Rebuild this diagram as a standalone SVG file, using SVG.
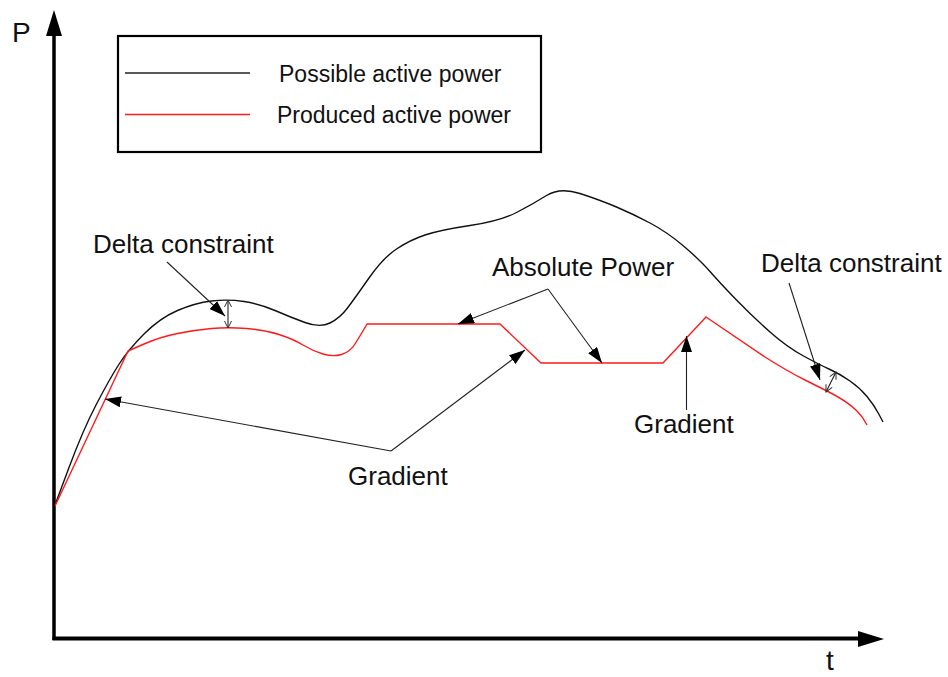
<svg xmlns="http://www.w3.org/2000/svg" width="948" height="677" viewBox="0 0 948 677">
<style>
.lbl{font-family:"Liberation Sans",Arial,sans-serif;font-size:26px;fill:#111}
.leg{font-family:"Liberation Sans",Arial,sans-serif;font-size:23px;fill:#111}
.ax{font-family:"Liberation Sans",Arial,sans-serif;font-size:28px;fill:#111}
.conn{stroke:#222;stroke-width:1.1;fill:none}
.blk{stroke:#111;stroke-width:1.4;fill:none;stroke-linejoin:round}
.red{stroke:#ff1a1a;stroke-width:1.4;fill:none;stroke-linejoin:round}
</style>
<defs>
<marker id="ah" markerWidth="17" markerHeight="11" refX="16" refY="5.5" orient="auto" markerUnits="userSpaceOnUse"><path d="M0,0 L16,5.5 L0,11 z" fill="#000"/></marker>
<marker id="oh" markerWidth="9" markerHeight="9" refX="7.5" refY="4" orient="auto-start-reverse" markerUnits="userSpaceOnUse"><path d="M0.5,0.5 L7.5,4 L0.5,7.5" fill="none" stroke="#333" stroke-width="1"/></marker>
</defs>
<rect width="948" height="677" fill="#fff"/>
<g id="axes">
<line x1="54" y1="640" x2="54" y2="34" stroke="#000" stroke-width="3.5"/>
<polygon points="46,36 62,36 54,10" fill="#000"/>
<line x1="52.5" y1="638.5" x2="860" y2="638.5" stroke="#000" stroke-width="4"/>
<polygon points="858,631 858,647 884,639" fill="#000"/>
<text class="ax" x="12" y="42">P</text>
<text class="ax" x="826" y="670">t</text>
</g>
<g id="legend">
<rect x="118" y="36" width="423" height="116" fill="none" stroke="#000" stroke-width="2.2"/>
<line x1="125" y1="73" x2="250" y2="73" stroke="#222" stroke-width="1.4"/>
<line x1="125" y1="114.5" x2="250" y2="114.5" stroke="#ff1a1a" stroke-width="1.4"/>
<text class="leg" x="279" y="82">Possible active power</text>
<text class="leg" x="277" y="123">Produced active power</text>
</g>
<g id="possible-power">
<path class="blk" d="M55,505 L69,467.5 Q83,430 96,405 Q109,380 118.5,365 Q128,350 144,334 Q160,318 177.5,310.5 Q195,303 211.5,301 Q228,299 244,301.5 Q260,304 275,310.5 Q290,317 305,322.5 Q320,328 330,323 Q340,318 347.5,308 Q355,298 369,278 Q383,258 396.5,249 Q410,240 425,235 Q440,230 470,225.5 Q500,221 516.5,212.5 Q533,204 546.5,195.5 Q560,187 580,193.5 Q600,200 616.5,207 Q633,214 650,223 Q667,232 683.5,246 Q700,260 710,271.5 Q720,283 736.5,300 Q753,317 770,332 Q787,347 803.5,356 Q820,365 830,369.5 Q840,374 850,381 Q860,388 867,396.5 Q874,405 878.5,413.5 L883,422"/>
</g>
<g id="produced-power">
<path class="red" d="M55,506 L128,351 L144,344 Q160,337 177.5,333.5 Q195,330 211.5,328.5 Q228,327 246.5,328.5 Q265,330 279,334.5 Q293,339 303,345 Q313,351 323,354 Q333,357 341.5,354.5 Q350,352 355,344 Q360,336 363.5,330 L367,324 L500,324 L541,363 L663,363 L706,317 L765,357 Q787,371 805,380 L827,391 Q847,401 857,411 Q863,417 867,425"/>
</g>
<g id="label-delta-left"><text class="lbl" x="93" y="253">Delta constraint</text></g>
<g id="label-absolute"><text class="lbl" x="492" y="276">Absolute Power</text></g>
<g id="label-delta-right"><text class="lbl" x="761" y="272">Delta constraint</text></g>
<g id="label-gradient-left"><text class="lbl" x="348" y="485">Gradient</text></g>
<g id="label-gradient-right"><text class="lbl" x="634" y="433">Gradient</text></g>
<g id="connectors">
<line class="conn" x1="167" y1="262" x2="225" y2="316" marker-end="url(#ah)"/>
<line class="conn" x1="228" y1="300" x2="228" y2="328" marker-start="url(#oh)" marker-end="url(#oh)"/>
<line class="conn" x1="391" y1="451" x2="105" y2="399" marker-end="url(#ah)"/>
<line class="conn" x1="391" y1="451" x2="525" y2="350" marker-end="url(#ah)"/>
<line class="conn" x1="548" y1="289" x2="458" y2="324" marker-end="url(#ah)"/>
<line class="conn" x1="548" y1="289" x2="602" y2="363" marker-end="url(#ah)"/>
<line class="conn" x1="686.5" y1="410" x2="686.5" y2="336" marker-end="url(#ah)" stroke-width="1.6"/>
<line class="conn" x1="789" y1="283" x2="820" y2="380" marker-end="url(#ah)"/>
<line class="conn" x1="826" y1="392" x2="836" y2="372" marker-start="url(#oh)" marker-end="url(#oh)"/>
</g>
</svg>
